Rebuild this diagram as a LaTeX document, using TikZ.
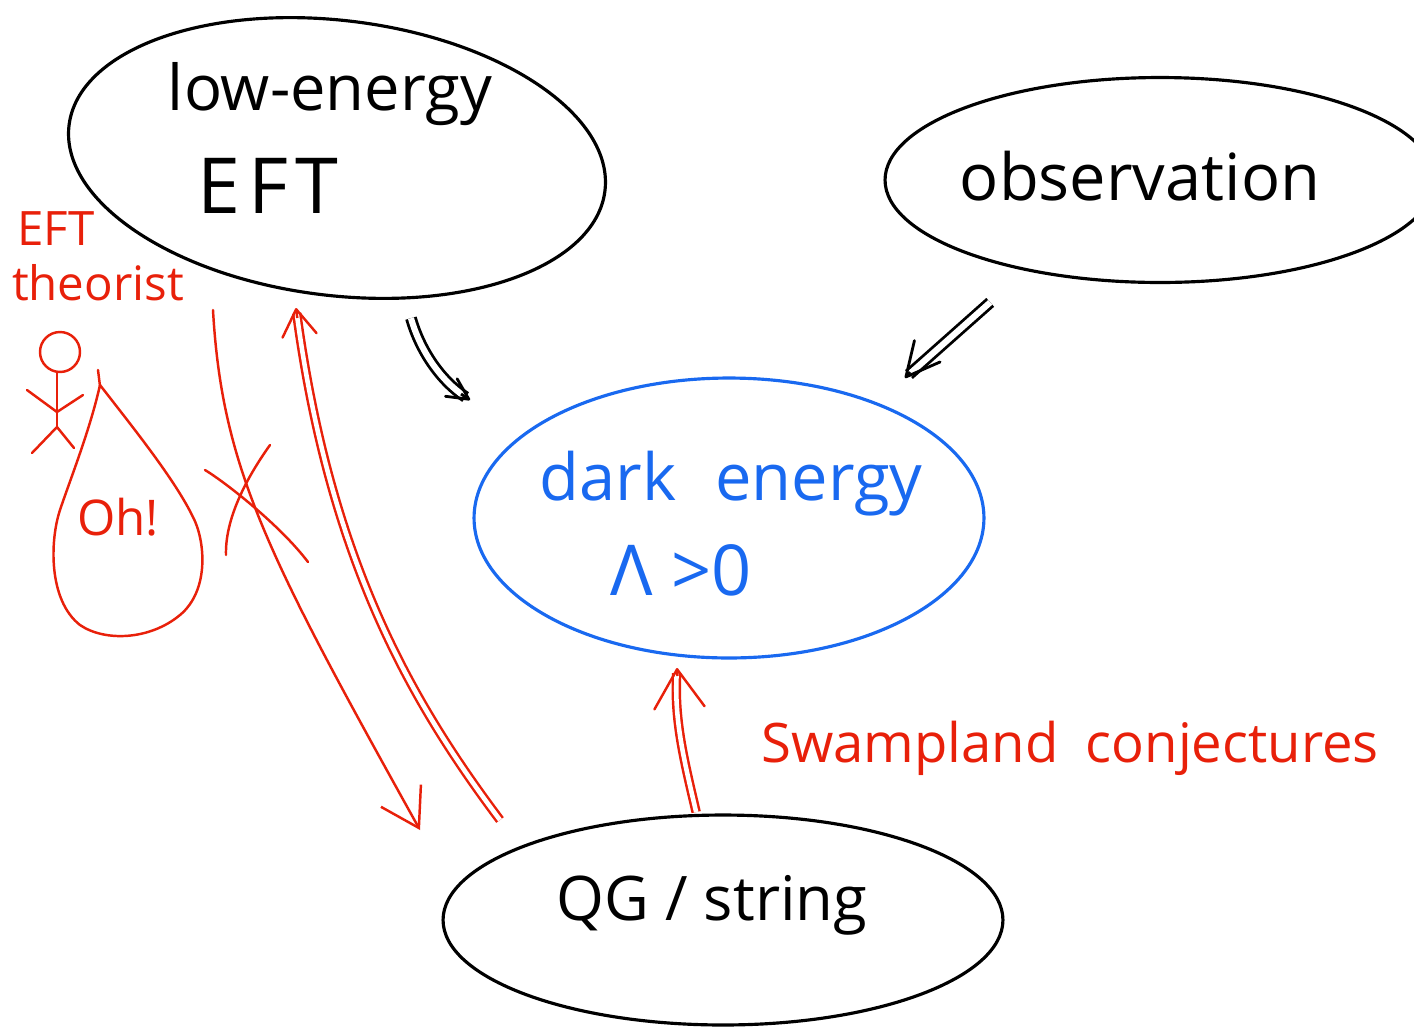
\documentclass[tikz,border=0pt]{standalone}
\usepackage{fontspec}
\setmainfont{Open Sans}
\usetikzlibrary{shapes.geometric,arrows.meta}
\definecolor{inkred}{RGB}{232,32,10}
\definecolor{inkblue}{RGB}{25,105,240}
\begin{document}
\begin{tikzpicture}[x=0.02cm,y=-0.02cm,
  bubble/.style={ellipse,draw,line width=1.8pt,outer sep=0pt,inner sep=0pt},
  hand/.style={anchor=base,inner sep=0pt},
  big/.style={font=\fontsize{36}{40}\selectfont},
  redpen/.style={draw=inkred,line width=1.4pt,line cap=round,line join=round},
  blackpen/.style={draw=black,line width=1.6pt,line cap=round,line join=round},
  shaftblack/.style={draw=black,line width=1.6pt,double=white,double distance=3.5pt,line cap=butt},
  shaftred/.style={draw=inkred,line width=1.4pt,double=white,double distance=2.6pt,line cap=butt},
  headblack/.style={draw=black,line width=1.6pt,line cap=butt,
    -{Straight Barb[length=#1,width=#1,line width=1.6pt,round]}},
  headred/.style={draw=inkred,line width=1.4pt,line cap=butt,
    -{Straight Barb[length=#1,width=1.3*#1,line width=1.4pt,round]}}]
\useasboundingbox (0,0) rectangle (1414,1029);

% main bubbles
\node[bubble,minimum width=10.8cm,minimum height=5.5cm,rotate=-7] (eft) at (337,158) {};
\node[bubble,minimum width=11cm,minimum height=4.1cm] (obs) at (1160,180) {};
\node[bubble,draw=inkblue,minimum width=10.2cm,minimum height=5.6cm] (dark) at (729,518) {};
\node[bubble,minimum width=11.2cm,minimum height=4.2cm] (qg) at (723,920) {};

% bubble texts
\node[hand,big] (lowe) at (330,110) {low-energy};
\node[hand,font=\fontsize{44}{50}\selectfont] (efttxt) at (268,213) {E\hspace{0.1em}F\hspace{0.1em}T};
\node[hand,font=\fontsize{37}{40}\selectfont] (obstxt) at (1140,200) {observation};
\node[hand,font=\fontsize{37}{40}\selectfont,text=inkblue] (darktxt) at (731,500) {dark\hspace{0.6em}energy};
\node[hand,font=\fontsize{40}{44}\selectfont,text=inkblue] (lambda) at (681,595) {Λ >0};
\node[hand,font=\fontsize{35}{40}\selectfont] (qgtxt) at (712,920) {QG / string};

% red annotations
\node[hand,font=\fontsize{31}{34}\selectfont,text=inkred] (swamp) at (1070,762) {Swampland\hspace{0.5em}conjectures};
\node[hand,font=\fontsize{27}{30}\selectfont,text=inkred] (efth) at (56,245) {EFT};
\node[hand,font=\fontsize{27}{30}\selectfont,text=inkred] (theor) at (98,300) {theorist};
\node[hand,font=\fontsize{28}{30}\selectfont,text=inkred] (oh) at (118,535) {Oh!};

% stick figure
\draw[redpen] (60,352) circle[radius=20];
\draw[redpen] (57,372) -- (57,428);
\draw[redpen] (27,390) -- (57,412) -- (83,395);
\draw[redpen] (32,453) -- (57,427) -- (74,448);

% speech drop
\draw[redpen] (98,370) -- (100,386);
\draw[redpen] (100,385) .. controls (90,430) and (70,480) .. (60,510)
  .. controls (50,540) and (48,600) .. (80,625)
  .. controls (105,642) and (150,640) .. (180,615)
  .. controls (210,590) and (205,540) .. (193,517)
  .. controls (175,480) and (135,430) .. (100,385);

% connector ends
\coordinate (tipA) at (470,400);
\coordinate (tipB) at (905,378);
\coordinate (tipC) at (420,830);
\coordinate (startC) at (213,310);
\coordinate (startD) at (500,820);
\coordinate (tipD) at (296,308);
\coordinate (tipE) at (677,668);

% black double arrows
\draw[shaftblack,shorten <=12pt,shorten >=3pt] (eft.-57) .. controls (420,350) and (440,380) .. (tipA);
\draw[headblack=12pt] (461,394) -- (tipA);
\draw[shaftblack,shorten <=28pt,shorten >=3pt] (obs.-146) -- (tipB);
\draw[headblack=19pt] (910,372) -- (tipB);

% red double arrows
\draw[shaftred,shorten <=2pt,shorten >=3pt] (qg.104) .. controls (684,760) and (674,720) .. (tipE);
\draw[headred=22pt] (677.5,676) -- (tipE);
\draw[shaftred,shorten >=3pt] (startD) .. controls (410,700) and (330,560) .. (tipD);
\draw[headred=15pt] (297.3,318) -- (tipD);

% single red arrow, crossed out
\draw[redpen,-{Straight Barb[length=21pt,width=26pt,line width=1.4pt]}] (startC) .. controls (222,470) and (270,560) .. (tipC);
\draw[redpen] (205,470) .. controls (225,482) and (280,525) .. (308,562);
\draw[redpen] (270,445) .. controls (245,480) and (225,520) .. (226,555);
\end{tikzpicture}
\end{document}
